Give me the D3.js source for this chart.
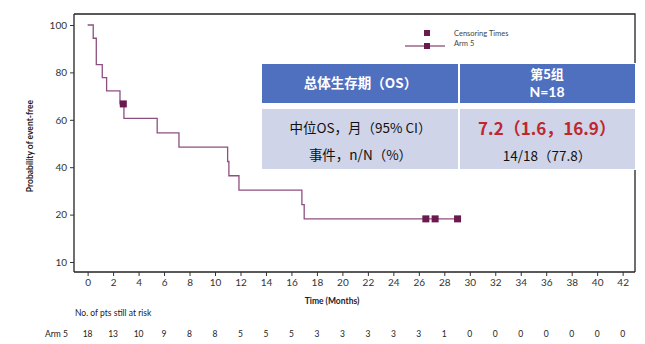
<!DOCTYPE html>
<html><head><meta charset="utf-8">
<script src="https://cdn.jsdelivr.net/npm/d3@7"></script>
<style>body{margin:0;background:#fff}svg{display:block}</style>
</head><body><svg id="c" width="645" height="344"></svg>
<script>
// ---- data ----
const kmTimes = [0, 0.44, 0.68, 1.15, 1.49, 2.54, 2.85, 5.46, 7.17, 10.99, 11.09, 11.88, 16.82, 17.0];
const kmSurv  = [100, 94.4, 83.3, 77.8, 72.2, 66.7, 60.6, 54.5, 48.5, 42.4, 36.4, 30.3, 24.2, 18.2];
const kmEnd = 29.04;
const censorTimes = [2.8, 26.55, 27.28, 29.04];
const censorSurv  = [66.7, 18.2, 18.2, 18.2];
const xTicks = d3.range(0, 43, 2);
const yTickValues = [0, 20, 40, 60, 80, 100];
const yTickLabels = ["10", "20", "40", "60", "80", "100"];
const atRisk = [18, 13, 10, 9, 8, 8, 5, 5, 5, 3, 3, 3, 3, 3, 1, 0, 0, 0, 0, 0, 0, 0];
const tableHeader = ["总体生存期（OS）", ["第5组", "N=18"]];
const tableRows = [["中位OS，月（95% CI）", "7.2（1.6，16.9）"], ["事件，n/N（%）", "14/18（77.8）"]];

const svg = d3.select("#c");
const L = 74, R = 635, T = 14, B = 272;
const x = d3.scaleLinear().domain([-1.07, 42.97]).range([L, R]);
const y = d3.scaleLinear().domain([0, 100]).range([262, 25]);
const lineCol = "#8e4f80", markCol = "#6a1a4e";
const latin = "Lato, 'Open Sans', sans-serif";
const cjk = "'Noto Sans CJK SC', sans-serif";

// frame top & right
svg.append("path").attr("d", `M${L},${T}H${R}V${B}`).attr("fill", "none").attr("stroke", "#222").attr("stroke-width", 1.3);

// axes
const xa = svg.append("g").attr("transform", `translate(0,${B})`)
  .call(d3.axisBottom(x).tickValues(xTicks).tickSize(4).tickPadding(3));
xa.select(".domain").attr("d", `M${L},0H${R}`).attr("stroke", "#222").attr("stroke-width", 1.3);
const ya = svg.append("g").attr("transform", `translate(${L},0)`)
  .call(d3.axisLeft(y).tickValues(yTickValues).tickFormat((d, i) => yTickLabels[i]).tickSize(4).tickPadding(3));
ya.select(".domain").attr("d", `M0,${T}V${B}`).attr("stroke", "#222").attr("stroke-width", 1.3);
svg.selectAll(".tick text").attr("font-family", latin).attr("font-size", 10).attr("fill", "#333");
svg.selectAll(".tick line").attr("stroke", "#333");

// KM step line
const pts = kmTimes.map((t, i) => [t, kmSurv[i]]);
pts.push([kmEnd, kmSurv[kmSurv.length - 1]]);
svg.append("path").datum(pts)
  .attr("d", d3.line().x(d => x(d[0])).y(d => y(d[1])).curve(d3.curveStepAfter))
  .attr("fill", "none").attr("stroke", lineCol).attr("stroke-width", 1.3);
svg.selectAll(".cen").data(censorTimes).enter().append("rect")
  .attr("x", (d) => x(d) - 3.5).attr("y", (d, i) => y(censorSurv[i]) - 3.5)
  .attr("width", 7).attr("height", 7).attr("fill", markCol);

// legend
svg.append("rect").attr("x", 424).attr("y", 30).attr("width", 6).attr("height", 6).attr("fill", markCol);
svg.append("line").attr("x1", 405).attr("x2", 445).attr("y1", 46).attr("y2", 46).attr("stroke", markCol).attr("stroke-width", 1.2);
svg.append("rect").attr("x", 424).attr("y", 43).attr("width", 6).attr("height", 6).attr("fill", markCol);
svg.append("text").attr("x", 454).attr("y", 36).text("Censoring Times").attr("font-family", latin).attr("font-size", 7.5).attr("fill", "#444");
svg.append("text").attr("x", 454).attr("y", 46).text("Arm 5").attr("font-family", latin).attr("font-size", 7.5).attr("fill", "#444");

// table
const tx0 = 262, tx1 = 459, tx2 = 635;
const hdrTop = 64, hdrBot = 103, bodyTop = 109, bodyBot = 169;
svg.append("rect").attr("x", tx0).attr("y", hdrTop - 1).attr("width", tx2 - tx0 + 1).attr("height", bodyBot - hdrTop + 2).attr("fill", "#fff");
svg.append("rect").attr("x", tx0).attr("y", hdrTop).attr("width", tx1 - tx0 - 1).attr("height", hdrBot - hdrTop).attr("fill", "#4f6fbf");
svg.append("rect").attr("x", tx1 + 1).attr("y", hdrTop).attr("width", tx2 - tx1 - 1).attr("height", hdrBot - hdrTop).attr("fill", "#4f6fbf");
svg.append("rect").attr("x", tx0).attr("y", bodyTop).attr("width", tx1 - tx0 - 1).attr("height", bodyBot - bodyTop).attr("fill", "#cfd4e9");
svg.append("rect").attr("x", tx1 + 1).attr("y", bodyTop).attr("width", tx2 - tx1 - 1).attr("height", bodyBot - bodyTop).attr("fill", "#cfd4e9");
const c0 = (tx0 + tx1) / 2, c1 = (tx1 + tx2) / 2;
svg.append("text").attr("x", c0).attr("y", 88).attr("text-anchor", "middle").text(tableHeader[0])
  .attr("font-family", cjk).attr("font-weight", "bold").attr("font-size", 13.5).attr("fill", "#fff");
svg.append("text").attr("x", c1).attr("y", 79).attr("text-anchor", "middle").text(tableHeader[1][0])
  .attr("font-family", cjk).attr("font-weight", "bold").attr("font-size", 13).attr("fill", "#fff");
svg.append("text").attr("x", c1).attr("y", 97).attr("text-anchor", "middle").text(tableHeader[1][1])
  .attr("font-family", latin).attr("font-weight", "bold").attr("font-size", 14).attr("fill", "#fff");
svg.append("text").attr("x", c0).attr("y", 133).attr("text-anchor", "middle").text(tableRows[0][0])
  .attr("font-family", cjk).attr("font-size", 13.5).attr("fill", "#111");
svg.append("text").attr("x", c1).attr("y", 135).attr("text-anchor", "middle").text(tableRows[0][1])
  .attr("font-family", cjk).attr("font-weight", "bold").attr("font-size", 17).attr("fill", "#c0272d");
svg.append("text").attr("x", c0).attr("y", 160).attr("text-anchor", "middle").text(tableRows[1][0])
  .attr("font-family", cjk).attr("font-size", 13.5).attr("fill", "#111");
svg.append("text").attr("x", c1).attr("y", 161).attr("text-anchor", "middle").text(tableRows[1][1])
  .attr("font-family", cjk).attr("font-size", 13.5).attr("fill", "#111");

// titles
svg.append("text").attr("transform", "translate(33,146) rotate(-90)").attr("text-anchor", "middle")
  .text("Probability of event-free").attr("font-family", latin).attr("font-weight", "bold").attr("font-size", 8.5).attr("fill", "#222");
svg.append("text").attr("x", 332).attr("y", 304).attr("text-anchor", "middle").text("Time (Months)")
  .attr("font-family", latin).attr("font-weight", "bold").attr("font-size", 8.5).attr("fill", "#222");
svg.append("text").attr("x", 75).attr("y", 316).text("No. of pts still at risk")
  .attr("font-family", latin).attr("font-size", 8.5).attr("fill", "#222");
svg.append("text").attr("x", 45).attr("y", 337).text("Arm 5")
  .attr("font-family", latin).attr("font-size", 8.5).attr("fill", "#222");
svg.selectAll(".risk").data(atRisk).enter().append("text")
  .attr("x", (d, i) => x(xTicks[i])).attr("y", 337).attr("text-anchor", "middle").text(d => d)
  .attr("font-family", latin).attr("font-size", 8.5).attr("fill", "#222");
</script></body></html>
